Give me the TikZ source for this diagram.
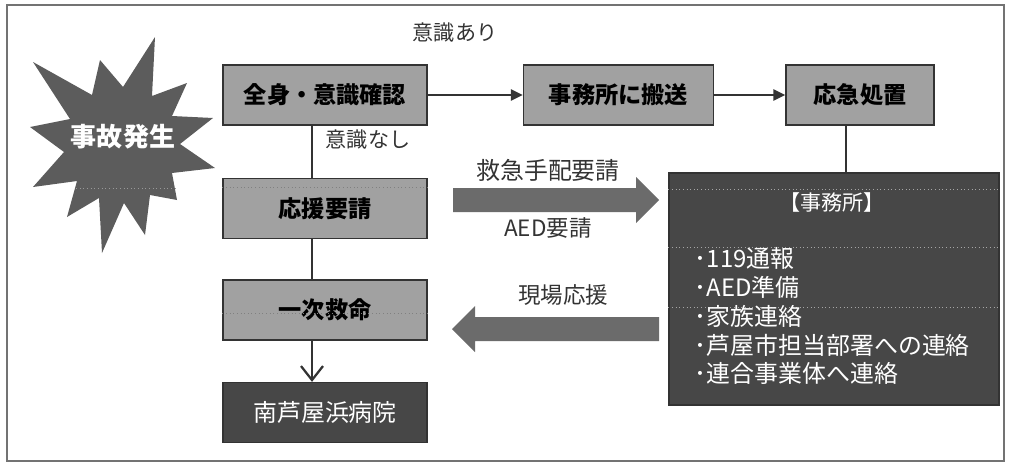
\documentclass[tikz,border=0pt]{standalone}
\usepackage{fontspec}
\newfontfamily\jp{Noto Sans CJK JP}
\usetikzlibrary{positioning,arrows.meta}

\tikzset{
	flowbox/.style={draw=black!80, line width=1.1pt, fill=black!37, minimum height=15mm, inner sep=0pt, font=\jp\bfseries\fontsize{16.5}{18}\selectfont},
	darkbox/.style={flowbox, fill=black!72, text=white, font=\jp\fontsize{17}{19}\selectfont},
	note/.style={font=\jp\fontsize{15}{17}\selectfont, text=black!80},
	link/.style={line width=1.6pt, draw=black!80},
	fatarrow/.style={fill=black!58},
	guide/.style={dotted, line width=0.6pt, draw=black!50},
}

\begin{document}
\begin{tikzpicture}[
		x=0.25mm, y=-0.25mm,
		node distance=10mm,
	]
	\useasboundingbox (0,0) rectangle (1009,467);
	\draw[line width=1.8pt, draw=black!55] (7,5) rectangle (1004,461);

	\fill[black!64] (155,37) -- (123,87) -- (100,60) -- (92,95) -- (33,62) -- (70,119) -- (30,127) -- (64,152) -- (33,187) -- (77,181) -- (67,217) -- (99,198) -- (102,253) -- (124,203) -- (145,235) -- (150,195) -- (177,200) -- (172,173) -- (215,168) -- (180,144) -- (213,118) -- (172,116) -- (187,83) -- (152,96) -- cycle;
	\draw[guide, draw=black!40] (76,188) -- (178,188);
	\node[font=\jp\bfseries\fontsize{18.5}{20}\selectfont, text=white] (accident) at (123,137) {事故発生};

	\node[flowbox, minimum width=51mm] (check) at (325,95) {全身・意識確認};
	\node[flowbox, minimum width=47.5mm, right=23.75mm of check] (carry) {事務所に搬送};
	\node[flowbox, minimum width=37mm, right=17.75mm of carry] (firstaid) {応急処置};
	\node[flowbox, minimum width=51mm, below=13mm of check] (help) {応援要請};
	\node[flowbox, minimum width=51mm, below=10mm of help] (cpr) {一次救命};
	\node[darkbox, minimum width=51mm, below=10.25mm of cpr] (hospital) {南芦屋浜病院};
	\node[darkbox, minimum width=82.5mm, minimum height=58mm] (office) at (834,289) {};

	\draw[guide] ([yshift=-2.5mm]help.north west) -- ([yshift=-2.5mm]help.north east);
	\draw[guide] ([yshift=-0.75mm]cpr.west) -- ([yshift=-0.75mm]cpr.east);
	\draw[guide, draw=black!35] ([yshift=-4.25mm]office.north west) -- ([yshift=-4.25mm]office.north east);
	\draw[guide, draw=black!35] ([yshift=10.5mm]office.west) -- ([yshift=10.5mm]office.east);
	\draw[guide, draw=black!35] ([yshift=-4.5mm]office.west) -- ([yshift=-4.5mm]office.east);

	\node[font=\jp\fontsize{15}{17}\selectfont, text=white] (officetitle) at (832,202) {【事務所】};
	\node[font=\jp\fontsize{17}{20.6}\selectfont, text=white, align=left, anchor=west] (duties) at (690,316) {･119通報\\･AED準備\\･家族連絡\\･芦屋市担当部署への連絡\\･連合事業体へ連絡};

	\draw[link, -{Triangle[length=3mm,width=2.8mm]}] (check) -- (carry);
	\draw[link, -{Triangle[length=3mm,width=2.8mm]}] (carry) -- (firstaid);
	\draw[link] ([xshift=-3.25mm]check.south) -- ([xshift=-3.25mm]help.north);
	\draw[link] ([xshift=-3.25mm]help.south) -- ([xshift=-3.25mm]cpr.north);
	\draw[link, -{Straight Barb[length=3.5mm,width=5.5mm]}] ([xshift=-3.25mm]cpr.south) -- ([xshift=-3.25mm]hospital.north);
	\draw[link] ([xshift=-3.5mm]firstaid.south) -- ([xshift=-3.5mm]firstaid.south |- office.north);

	\coordinate (reqtail) at (453,200);
	\coordinate (reqtip) at (659,200);
	\fill[fatarrow] (reqtail) ++(0,-12) -- ++(183,0) -- ++(0,-11) -- (reqtip) -- ++(-23,23) -- ++(0,-11) -- ++(-183,0) -- cycle;
	\coordinate (suptail) at (659,329);
	\coordinate (suptip) at (452,329);
	\fill[fatarrow] (suptail) ++(0,-12) -- ++(-184,0) -- ++(0,-11) -- (suptip) -- ++(23,23) -- ++(0,-11) -- ++(184,0) -- cycle;

	\node[note] (conscious) at (455,33) {意識あり};
	\node[note] (unconscious) at (368,140) {意識なし};
	\node[note, font=\jp\fontsize{17}{19}\selectfont] (askamb) at (548,170) {救急手配要請};
	\node[note, font=\jp\fontsize{16}{18}\selectfont] (askaed) at (548,228) {AED要請};
	\node[note, font=\jp\fontsize{16}{18}\selectfont] (support) at (563,295) {現場応援};
\end{tikzpicture}
\end{document}
